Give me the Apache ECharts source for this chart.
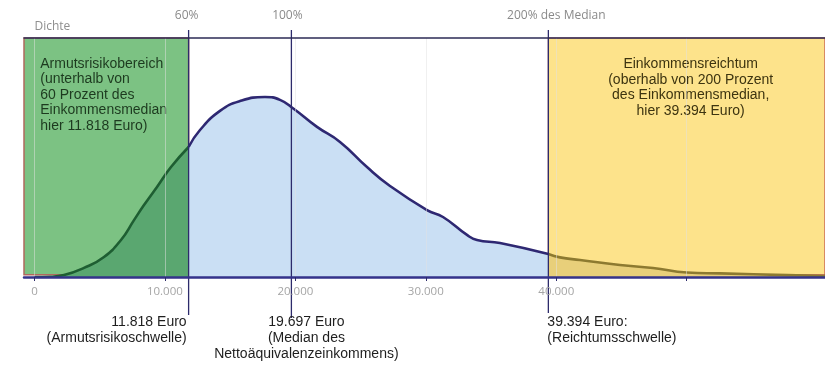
<!DOCTYPE html>
<html>
<head>
<meta charset="utf-8">
<script src="https://cdn.jsdelivr.net/npm/echarts@6/dist/echarts.min.js"></script>
<style>
    html, body { margin: 0; padding: 0; background: #fff; }
    #chart { width: 825px; height: 368px; }
</style>
</head>
<body>
<div id="chart"></div>
<script>
// Einkommen (Euro) und Dichte
var povertyX = [0, 1200, 2266, 3799, 5332, 6635, 7632, 8398, 9395, 10468, 11818];
var povertyY = [0, 0.1, 0.8, 3.8, 8.4, 15.5, 23.8, 30.1, 37.7, 46.0, 54.4];
var middleX = [11818, 12691, 14224, 15757, 17673, 18823, 19896, 21659, 23422, 25492, 27255, 30091, 31317, 33157, 33923, 35686, 39394];
var middleY = [54.4, 61.5, 69.5, 73.6, 75.3, 74.1, 70.3, 62.8, 56.5, 46.0, 38.1, 28.0, 25.1, 17.6, 15.5, 14.2, 9.6];
var richX = [39394, 40285, 41818, 44885, 47414, 50020, 52550, 57686, 60600];
var richY = [9.6, 8.2, 7.1, 5.0, 3.8, 1.9, 1.5, 0.8, 0.4];

// Schwellen
var thresholdValues = [11818, 19697, 39394];
var topLabels = ['60%', '100%', '200% des Median'];
var bottomLabels = [
    '11.818 Euro\n(Armutsrisikoschwelle)',
    '19.697 Euro\n(Median des\nNettoäquivalenzeinkommens)',
    '39.394 Euro:\n(Reichtumsschwelle)'
];

// Achse
var tickValues = [0, 10000, 20000, 30000, 40000, 50000];
var labelValues = [0, 10000, 20000, 30000, 40000];
var tickLabels = ['0', '10.000', '20.000', '30.000', '40.000'];

var povertyText = ['Armutsrisikobereich', '(unterhalb von', '60 Prozent des', 'Einkommensmedian', 'hier 11.818 Euro)'];
var richText = ['Einkommensreichtum', '(oberhalb von 200 Prozent', 'des Einkommensmedian,', 'hier 39.394 Euro)'];

// Layout der Beschriftungen (nur Darstellung)
var topDx = [-2, -4, 8];
var bottomDx = [-2, 15, -1];
var bottomAlign = ['right', 'center', 'left'];
var lineExt = [38, 41, 36];

function zip(xs, ys) {
    return xs.map(function (x, i) { return [x, ys[i]]; });
}

function segment(xs, ys, lineColor, areaColor) {
    return {
        type: 'line',
        z: 3,
        silent: true,
        smooth: 0.5,
        symbol: 'none',
        data: zip(xs, ys),
        lineStyle: { color: lineColor, width: 2.6 },
        areaStyle: { color: areaColor, opacity: 1 }
    };
}

var chart = echarts.init(document.getElementById('chart'));
var option = {
    animation: false,
    grid: { left: 24, right: 0, top: 38, bottom: 91 },
    xAxis: [
        {
            type: 'value',
            min: -800,
            max: 60600,
            minInterval: 10000,
            maxInterval: 10000,
            position: 'bottom',
            z: 10,
            axisLine: { lineStyle: { color: '#34338a', width: 2.5 } },
            axisTick: { customValues: tickValues, length: 4, lineStyle: { color: '#2d2b6b' } },
            axisLabel: {
                customValues: labelValues,
                formatter: function (v) { return tickLabels[labelValues.indexOf(v)]; },
                color: '#a5a5a5',
                fontFamily: 'Open Sans',
                fontSize: 11.5,
                margin: 9
            },
            splitLine: { show: true, lineStyle: { color: 'rgba(225,225,225,0.5)' } }
        },
        {
            type: 'value',
            min: -800,
            max: 60600,
            position: 'top',
            z: 10,
            axisLine: { lineStyle: { color: '#2c2b55', width: 1.5 } },
            axisTick: { show: false },
            axisLabel: { show: false },
            splitLine: { show: false }
        }
    ],
    yAxis: {
        type: 'value',
        min: 0,
        max: 100,
        name: 'Dichte',
        nameLocation: 'end',
        nameGap: 5,
        nameTextStyle: { align: 'left', color: '#8f8f8f', fontFamily: 'Open Sans', fontSize: 12 },
        axisLine: { show: false },
        axisTick: { show: false },
        axisLabel: { show: false },
        splitLine: { show: false }
    },
    series: [
        {
            type: 'line',
            z: 1,
            data: [],
            silent: true,
            markArea: {
                silent: true,
                data: [
                    [
                        {
                            xAxis: -800, yAxis: 0.9,
                            itemStyle: { color: '#7cc283', borderColor: '#b0685e', borderWidth: 1.5 },
                            label: {
                                show: true,
                                position: [17, 19],
                                formatter: povertyText.join('\n'),
                                color: '#1d3a1f',
                                fontFamily: 'Liberation Sans',
                                fontSize: 14,
                                lineHeight: 15.5,
                                align: 'left'
                            }
                        },
                        { xAxis: 11818, yAxis: 100 }
                    ],
                    [
                        {
                            xAxis: 39394, yAxis: 0.9,
                            itemStyle: { color: '#fde38b', borderColor: '#c0504a', borderWidth: 1.2 },
                            label: {
                                show: true,
                                position: 'insideTop',
                                distance: 19,
                                offset: [4, 0],
                                formatter: richText.join('\n'),
                                color: '#3d3410',
                                fontFamily: 'Liberation Sans',
                                fontSize: 14,
                                lineHeight: 15.5,
                                align: 'center'
                            }
                        },
                        { xAxis: 60600, yAxis: 100 }
                    ]
                ]
            }
        },
        segment(povertyX, povertyY, '#1e5e32', '#5aa770'),
        segment(middleX, middleY, '#2e2872', '#cadff4'),
        segment(richX, richY, '#8d7a30', '#e8cf7a'),
        {
            type: 'custom',
            z: 6,
            silent: true,
            data: thresholdValues.map(function (v, i) { return [v, 0, i]; }),
            renderItem: function (params, api) {
                var i = api.value(2);
                var x = api.coord([api.value(0), 0])[0];
                var cs = params.coordSys;
                return {
                    type: 'group',
                    children: [
                        {
                            type: 'line',
                            shape: { x1: x, y1: cs.y - 8, x2: x, y2: cs.y + cs.height + lineExt[i] },
                            style: { stroke: '#2d2b6b', lineWidth: 1.3 }
                        },
                        {
                            type: 'text',
                            x: x + topDx[i],
                            y: cs.y - 22,
                            style: {
                                text: topLabels[i],
                                align: 'center',
                                verticalAlign: 'middle',
                                fill: '#8a8a8a',
                                font: '12px "Open Sans", sans-serif'
                            }
                        },
                        {
                            type: 'text',
                            x: x + bottomDx[i],
                            y: cs.y + cs.height + 37,
                            style: {
                                text: bottomLabels[i],
                                align: bottomAlign[i],
                                verticalAlign: 'top',
                                fill: '#1e1e1e',
                                font: '14px "Liberation Sans", Arial, sans-serif',
                                lineHeight: 16
                            }
                        }
                    ]
                };
            }
        }
    ]
};
chart.setOption(option);
</script>
</body>
</html>
